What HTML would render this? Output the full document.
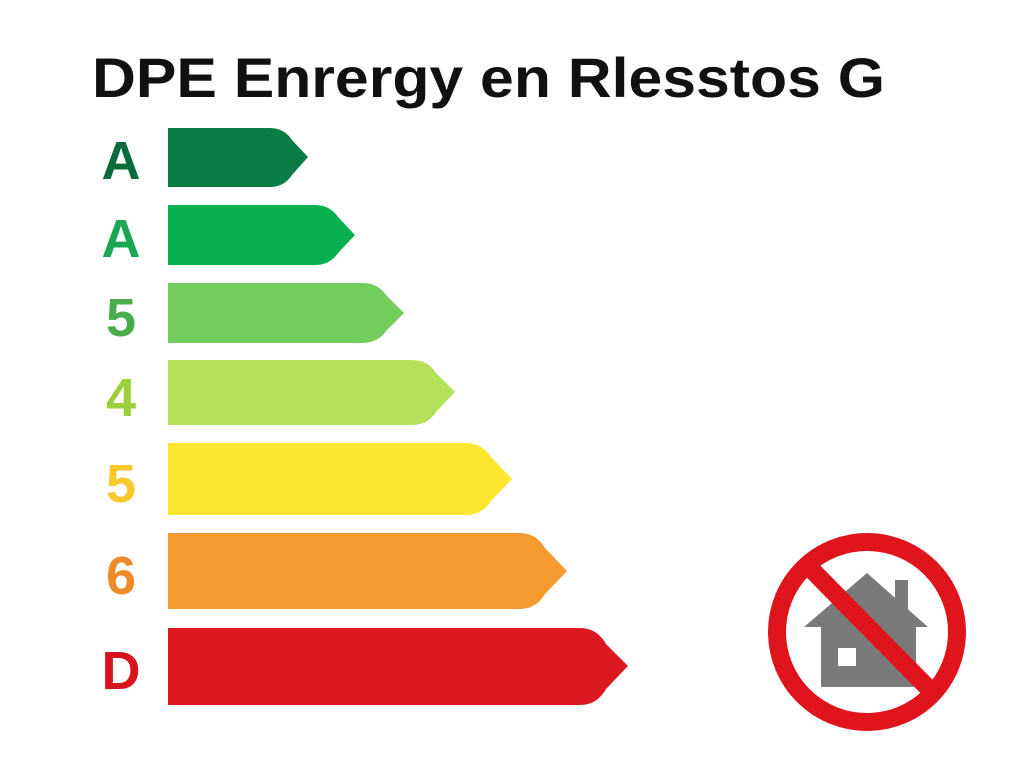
<!DOCTYPE html>
<html><head><meta charset="utf-8"><style>
html,body{margin:0;padding:0;background:#fff;}
svg{display:block;}
</style></head><body>
<svg width="1024" height="768" viewBox="0 0 1024 768" xmlns="http://www.w3.org/2000/svg">
<rect width="1024" height="768" fill="#fff"/>
<text x="92" y="97" font-family="Liberation Sans, sans-serif" font-weight="bold" font-size="56" fill="#111" textLength="793" lengthAdjust="spacingAndGlyphs">DPE Enrergy en Rlesstos G</text>
<g font-family="Liberation Sans, sans-serif" font-weight="bold" font-size="54" text-anchor="middle">
<text x="121" y="179" fill="#0b6b3c">A</text>
<text x="121" y="257" fill="#1aa855">A</text>
<text x="121" y="336" fill="#4aac4a">5</text>
<text x="121" y="416" fill="#9dcf3a">4</text>
<text x="121" y="502" fill="#f8c92a">5</text>
<text x="121" y="594" fill="#ef8a2a">6</text>
<text x="121" y="689" fill="#d8121e">D</text>
</g>
<g>
<path d="M168,128 L270,128 Q284,128 292,140 L308,157 L292,175 Q284,187 270,187 L168,187 Z" fill="#0a7d47"/>
<path d="M168,205 L315,205 Q330,205 338,217 L355,235 L338,253 Q330,265 315,265 L168,265 Z" fill="#08b04f"/>
<path d="M168,283 L362,283 Q378,283 386,295 L404,313 L386,331 Q378,343 362,343 L168,343 Z" fill="#72cd5c"/>
<path d="M168,360 L412,360 Q428,360 436,373 L455,392 L436,412 Q428,425 412,425 L168,425 Z" fill="#b5e05a"/>
<path d="M168,443 L466,443 Q482,443 491,457 L512,479 L491,501 Q482,515 466,515 L168,515 Z" fill="#fde630"/>
<path d="M168,533 L520,533 Q536,533 545,548 L567,571 L545,594 Q536,609 520,609 L168,609 Z" fill="#f59a2f"/>
<path d="M168,628 L580,628 Q597,628 606,644 L628,666 L606,689 Q597,705 580,705 L168,705 Z" fill="#dc1820"/>
</g>
<g>
<polygon points="867,573 804,627 821,627 821,687 916,687 916,627 928,627" fill="#7a7a7a"/>
<rect x="895" y="580" width="13" height="30" fill="#7a7a7a"/>
<rect x="838" y="648" width="18" height="18" fill="#fff"/>
<circle cx="867" cy="632" r="90" fill="none" stroke="#e0141c" stroke-width="18"/>
<line x1="808" y1="566" x2="934" y2="694" stroke="#e0141c" stroke-width="18"/>
</g>
</svg>
</body></html>
